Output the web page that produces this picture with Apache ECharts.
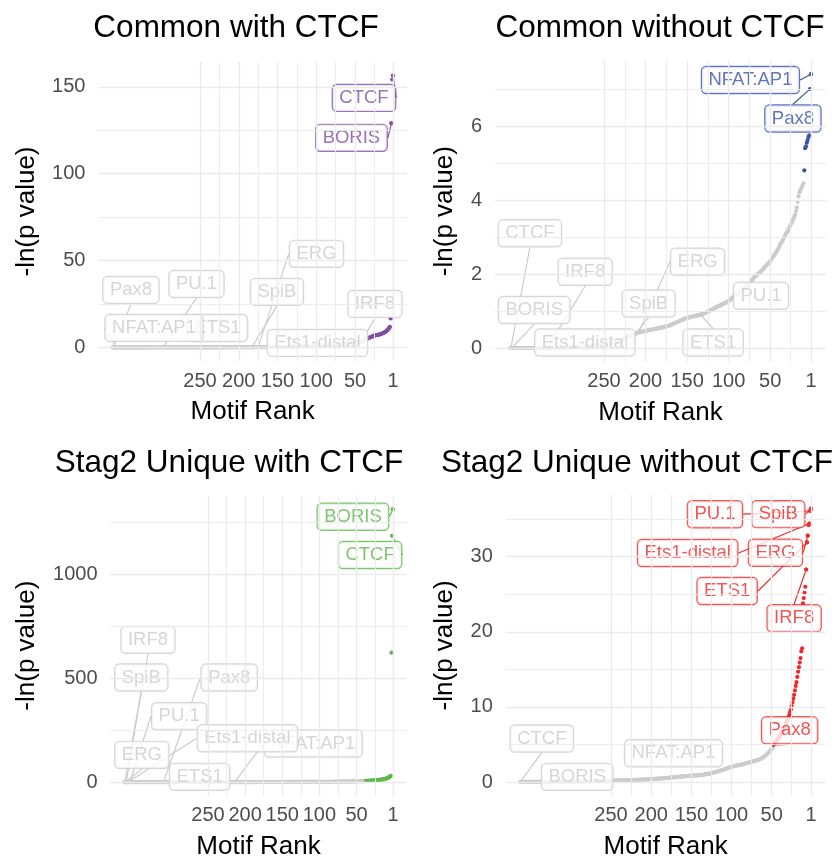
<!DOCTYPE html>
<html><head><meta charset="utf-8">
<script src="https://cdn.jsdelivr.net/npm/echarts@6/dist/echarts.min.js"></script>
<style>html,body{margin:0;padding:0;background:#fff}#c{width:838px;height:863px}</style>
</head><body><div id="c"></div>
<script>
// ---------------- DATA ----------------
const panelTitles = ['Common with CTCF', 'Common without CTCF', 'Stag2 Unique with CTCF', 'Stag2 Unique without CTCF'];
const motifs = ['CTCF', 'BORIS', 'Pax8', 'PU.1', 'NFAT:AP1', 'ETS1', 'SpiB', 'ERG', 'Ets1-distal', 'IRF8'];
const xTicks = [250, 200, 150, 100, 50, 1];
const xMinorTicks = [225, 175, 125, 75, 25.5];

// -ln(p) by motif rank (rank 1 first), one array per panel
const tlValues = [156.5,154.2,129.0,16.7,11.8,11.2,10.6,10.1,9.6,9.2,
8.9,8.6,8.4,8.2,8.0,7.8,7.6,7.5,7.4,7.3,
7.2,7.1,7.0,6.9,6.8,6.6,6.4,6.2,6.0,5.9,
5.7,5.5,5.3,5.0,4.8,4.5,4.3,4.1,3.9,3.7,
3.5,3.3,3.2,3.1,3.0,
2.9,2.8,2.7,2.6,2.5,2.45,2.4,2.3,2.25,2.2,2.1,2.05,2.0,1.95,1.9,
1.85,1.8,1.76,1.72,1.68,1.64,1.6,1.56,1.52,1.49,1.46,1.43,1.4,1.37,1.34,1.31,1.28,1.25,1.22,1.2,
1.18,1.15,1.13,1.1,1.08,1.06,1.04,1.02,1.0,0.98,0.96,0.94,0.92,0.9,0.89,0.87,0.85,0.84,0.82,0.81,
0.79,0.78,0.76,0.75,0.74,0.72,0.71,0.7,0.69,0.68,0.66,0.65,0.64,0.63,0.62,0.61,0.6,0.59,0.58,0.57,
0.56,0.55,0.54,0.53,0.52,0.51,0.5,0.49,0.48,0.47,0.46,0.45,0.45,0.44,0.43,0.42,0.41,0.41,0.4,0.39,
0.38,0.38,0.37,0.36,0.36,0.35,0.34,0.34,0.33,0.32,0.32,0.31,0.31,0.3,0.29,0.29,0.28,0.28,0.27,0.27,
0.26,0.26,0.25,0.25,0.24,0.24,0.23,0.23,0.22,0.22,0.21,0.21,0.2,0.2,0.2,0.19,0.19,0.18,0.18,0.18,
0.17,0.17,0.17,0.16,0.16,0.16,0.15,0.15,0.15,0.14,0.14,0.14,0.13,0.13,0.13,0.12,0.12,0.12,0.12,0.11,
0.11,0.11,0.11,0.1,0.1,0.1,0.1,0.09,0.09,0.09,0.09,0.09,0.08,0.08,0.08,0.08,0.08,0.07,0.07,0.07,
0.07,0.07,0.07,0.06,0.06,0.06,0.06,0.06,0.06,0.05,0.05,0.05,0.05,0.05,0.05,0.05,0.04,0.04,0.04,0.04,
0.04,0.04,0.04,0.04,0.04,0.04,0.04,0.04,0.04,0.04,0.04,0.04,0.04,0.04,0.04,
0.03,0.03,0.03,0.03,0.03,0.03,0.03,0.03,0.03,0.03,0.03,0.03,0.03,0.03,0.03,0.03,0.03,0.03,0.03,0.03,0.03,0.03,0.03,0.03,0.03,
0.02,0.02,0.02,0.02,0.02,0.02,0.02,0.02,0.02,0.02,0.02,0.02,0.02,0.02,0.02,0.02,0.02,0.02,0.02,0.02,0.02,0.02,0.02,0.02,0.02,0.02,0.02,0.02,0.02,0.02,
0.01,0.01,0.01,0.01,0.01,0.01,0.01,0.01,0.01,0.01,0.01,0.01,0.01,0.01,0.01,0.01,0.01,0.01,0.01,0.01,0.01,0.01,0.01,0.01,0.01,0.01,0.01,0.01,0.01,0.01,
0,0,0,0,0,0,0,0,0,0,0,0,0,0,0,0,0,0,0,0,0,0,0];

const trValues = [7.4,7.0,5.75,5.7,5.62,5.55,5.45,5.4,4.8,4.45,
4.4,4.35,4.3,4.25,4.2,4.1,3.95,3.8,3.7,3.6,
3.55,3.5,3.45,3.4,3.35,3.3,3.25,3.2,3.15,3.12,
3.1,3.05,3.0,2.95,2.9,2.87,2.84,2.8,2.75,2.7,
2.66,2.62,2.58,2.55,2.52,2.48,2.45,2.42,2.38,2.35,
2.32,2.3,2.27,2.25,2.22,2.2,2.17,2.15,2.12,2.1,
2.08,2.06,2.04,2.02,2.0,1.98,1.96,1.94,1.92,1.9,
1.86,1.83,1.8,1.77,1.74,1.72,1.7,1.68,1.66,1.64,
1.62,1.6,1.58,1.56,1.54,1.52,1.5,1.48,1.46,1.45,
1.44,1.43,1.41,1.39,1.37,1.35,1.33,1.31,1.29,1.27,
1.26,1.25,1.24,1.22,1.21,1.2,1.19,1.18,1.17,1.15,1.14,1.13,1.12,1.11,1.1,1.09,1.08,1.06,1.05,1.04,1.03,1.02,1.01,1.0,0.98,
0.97,0.96,0.95,0.94,0.93,0.92,0.91,0.9,0.9,0.89,0.89,0.88,0.88,0.87,0.87,0.86,0.86,0.85,0.85,0.84,0.84,0.83,0.83,0.82,0.82,
0.81,0.8,0.79,0.78,0.77,0.76,0.75,0.74,0.73,0.72,0.71,0.7,0.69,0.68,0.67,0.66,0.65,0.64,0.63,0.62,0.61,0.6,0.6,0.59,0.58,
0.58,0.57,0.57,0.56,0.56,0.55,0.55,0.54,0.54,0.53,0.53,0.52,0.52,0.51,0.51,0.5,0.5,0.5,0.49,0.49,0.48,0.48,0.47,0.47,0.46,
0.46,0.45,0.45,0.44,0.44,0.43,0.43,0.42,0.42,0.41,0.4,0.39,0.38,0.37,0.36,0.35,0.34,0.33,0.32,0.31,0.3,0.29,0.28,0.27,0.26,
0.25,0.24,0.23,0.22,0.21,0.2,0.2,0.19,0.18,0.18,0.17,0.16,0.16,0.15,0.15,0.14,0.14,0.13,0.13,0.12,0.12,0.11,0.11,0.1,0.1,
0.1,0.09,0.09,0.09,0.08,0.08,0.08,0.07,0.07,0.07,0.07,0.06,0.06,0.06,0.06,0.05,0.05,0.05,0.05,0.05,0.04,0.04,0.04,0.04,0.04,
0.04,0.03,0.03,0.03,0.03,0.03,0.03,0.03,0.02,0.02,0.02,0.02,0.02,0.02,0.02,0.02,0.02,0.01,0.01,0.01,0.01,0.01,0.01,0.01,0.01,
0.01,0.01,0.01,0.01,0.01,0.01,0.01,0.01,0.01,0.01,0.01,0.01,0.01,0.01,0.01,0.01,0.01,0.01,0.01,0.01,
0,0,0,0,0,0,0,0,0,0,0,0,0,0,0,0,0,0,0,0,0,0,0,0,0,0,0,0,0,0,0,0,0,0,0,0,0,0,0,0,0,0,0];

const blValues = [1312,1184,622,30,27,24,22,20,18.5,17,
16,15,14.2,13.5,12.8,12.2,11.6,11,10.5,10,
9.6,9.2,8.8,8.4,8.1,7.8,7.5,7.2,6.9,6.6,
6.4,6.2,6.0,5.8,5.6,5.4,5.2,5.0,4.9,4.8,4.7,4.5,4.3,4.1,
4.0,3.9,3.8,3.7,3.6,3.5,3.4,3.3,3.2,3.1,3.0,2.9,2.8,2.7,2.6,2.5,
2.45,2.4,2.35,2.3,2.25,2.2,2.15,2.1,2.05,2.0,1.95,1.9,1.86,1.82,1.78,1.74,1.7,1.66,1.62,1.58,
1.55,1.52,1.49,1.46,1.43,1.4,1.37,1.34,1.31,1.28,1.25,1.22,1.2,1.18,1.16,1.14,1.12,1.1,1.08,1.06,
1.04,1.02,1.0,0.98,0.96,0.94,0.92,0.9,0.88,0.86,0.85,0.84,0.83,0.82,0.81,0.8,0.78,0.76,0.74,0.72,
0.7,0.68,0.66,0.64,0.62,0.6,0.58,0.56,0.54,0.52,0.5,0.49,0.48,0.47,0.46,0.45,0.44,0.43,0.42,0.41,
0.4,0.39,0.38,0.37,0.36,0.35,0.34,0.33,0.32,0.31,
0.3,0.29,0.29,0.28,0.28,0.27,0.27,0.26,0.26,0.25,0.25,0.24,0.24,0.23,0.23,0.22,0.22,0.21,0.21,0.2,
0.2,0.19,0.19,0.18,0.18,0.17,0.17,0.16,0.16,0.15,0.15,0.14,0.14,0.13,0.13,0.12,0.12,0.11,0.11,0.1,
0.1,0.1,0.09,0.09,0.09,0.08,0.08,0.08,0.07,0.07,
0.06,0.06,0.06,0.06,0.06,0.06,0.06,0.06,0.06,0.06,0.06,0.06,0.06,0.06,0.06,0.06,0.06,0.06,0.06,0.06,
0.05,0.05,0.05,0.05,0.05,0.05,0.05,0.05,0.05,0.05,0.05,0.05,0.05,0.05,0.05,0.05,0.05,0.05,0.05,0.05,
0.04,0.04,0.04,0.04,0.04,0.04,0.04,0.04,0.04,0.04,0.04,0.04,0.04,0.04,0.04,0.04,0.04,0.04,0.04,0.04,
0.03,0.03,0.03,0.03,0.03,0.03,0.03,0.03,0.03,0.03,0.03,0.03,0.03,0.03,0.03,0.03,0.03,0.03,0.03,0.03,
0.02,0.02,0.02,0.02,0.02,0.02,0.02,0.02,0.02,0.02,0.02,0.02,0.02,0.02,0.02,0.02,0.02,0.02,0.02,0.02,
0.01,0.01,0.01,0.01,0.01,0.01,0.01,0.01,0.01,0.01,0.01,0.01,0.01,0.01,0.01,0.01,0.01,0.01,0.01,0.01,0.01,0.01,0.01,0.01,0.01,0.01,0.01,0.01,0.01,0.01,
0,0,0,0,0,0,0,0,0,0,0,0,0,0,0,0,0,0,0,0,0,0,0,0,0,0,0,0,0,0,0,0,0];

const brValues = [36.4,36.1,34.4,34.2,32.8,31.9,28.3,26.0,25.2,24.5,
23.8,17.8,17.4,16.5,15.9,15.3,14.7,14.0,13.3,12.8,
12.2,11.6,11.1,10.6,10.1,9.7,9.3,8.9,8.6,8.3,
8.1,7.8,7.6,7.3,7.1,6.9,6.7,6.5,6.3,6.1,
5.95,5.8,5.65,5.5,5.35,5.2,5.05,4.93,
4.5,4.38,4.26,4.14,4.02,3.9,3.8,3.7,3.6,3.5,3.42,3.34,3.26,3.19,3.13,3.07,3.02,2.97,2.93,2.9,2.87,2.84,
2.81,2.78,2.75,2.72,2.69,2.66,2.63,2.6,2.57,2.54,2.51,2.48,2.45,2.42,2.39,2.36,2.34,2.32,2.3,2.28,2.26,2.24,2.22,2.19,2.16,2.13,2.1,2.08,2.06,2.04,
2.0,1.96,1.92,1.88,1.84,1.8,1.76,1.72,1.68,1.64,1.6,1.57,1.54,1.51,1.48,1.45,1.42,1.39,1.36,1.33,
1.3,1.27,1.24,1.21,1.18,1.15,1.13,1.11,1.09,1.07,1.05,1.03,1.01,0.99,0.97,0.95,0.94,0.93,0.92,0.91,
0.9,0.89,0.89,0.88,0.88,0.87,0.87,0.86,0.86,0.85,
0.84,0.83,0.82,0.81,0.8,0.79,0.78,0.77,0.76,0.75,0.74,0.73,0.72,0.71,0.7,0.69,0.68,0.67,0.66,0.65,
0.64,0.63,0.62,0.61,0.6,0.59,0.58,0.57,0.56,0.55,0.54,0.53,0.52,0.51,0.5,0.5,0.49,0.49,0.48,0.47,
0.46,0.45,0.44,0.43,0.42,0.41,0.4,0.4,0.39,0.38,
0.38,0.37,0.37,0.36,0.36,0.35,0.35,0.34,0.34,0.33,0.33,0.32,0.32,0.31,0.31,0.3,0.3,0.29,0.29,0.28,
0.28,0.27,0.27,0.26,0.26,0.25,0.25,0.25,0.24,0.24,0.24,0.23,0.23,0.23,0.22,0.22,0.22,0.21,0.21,0.21,
0.2,0.2,0.2,0.2,0.19,0.19,0.19,0.19,0.18,0.18,
0.18,0.18,0.17,0.17,0.17,0.17,0.16,0.16,0.16,0.16,0.15,0.15,0.15,0.15,0.14,0.14,0.14,0.14,0.13,0.13,
0.13,0.13,0.12,0.12,0.12,0.12,0.11,0.11,0.11,0.11,0.1,0.1,0.1,0.1,0.09,0.09,0.09,0.09,0.09,0.08,
0.08,0.08,0.08,0.08,0.07,0.07,0.07,0.07,0.07,0.07,
0.06,0.06,0.06,0.06,0.06,0.06,0.06,0.06,0.06,0.06,0.06,0.06,
0.05,0.05,0.05,0.05,0.05,0.05,0.05,0.05,0.05,0.05,0.05,0.05,
0.04,0.04,0.04,0.04,0.04,0.04,0.04,0.04,0.04,0.04,0.04,0.04,
0.03,0.03,0.03,0.03,0.03,0.03,0.03,0.03,0.03,0.03,0.03,0.03,
0.02,0.02,0.02,0.02,0.02,0.02,0.02,0.02,0.02,0.02,0.02,0.02,0.02,0.02,0.02];

// rank of each labelled motif (same order as motifs)
const tlRanks = [1, 3, 362, 298, 358, 240, 183, 175, 90, 42];
const trRanks = [362, 361, 2, 92, 1, 134, 212, 208, 270, 318];
const blRanks = [2, 1, 310, 355, 214, 260, 360, 361, 358, 362];
const brRanks = [363, 335, 48, 2, 170, 6, 1, 5, 3, 7];

const tlYTicks = [0, 50, 100, 150], tlYMinor = [25, 75, 125];
const trYTicks = [0, 2, 4, 6], trYMinor = [1, 3, 5, 7];
const blYTicks = [0, 500, 1000], blYMinor = [250, 750, 1250];
const brYTicks = [0, 10, 20, 30], brYMinor = [5, 15, 25, 35];

// ---------------- STYLE / LAYOUT ----------------
const FONT = '"Liberation Sans", Arial, Helvetica, sans-serif';
const GREY = '#cccccc';
const GRIDC = '#ebebeb';
const SIG = 4.605; // -ln(0.01)

const panels = [
  { title: panelTitles[0], values: tlValues, ranks: tlRanks, color: '#7E4FA3', yTicks: tlYTicks, yMinor: tlYMinor,
    grid: { left: 98.4, top: 62, width: 308.6, height: 299 }, yGap: 59, titleX: 236, titleY: 28,
    order: ['ETS1', 'CTCF', 'BORIS', 'Pax8', 'PU.1', 'NFAT:AP1', 'SpiB', 'ERG', 'Ets1-distal', 'IRF8'],
    off: { 'CTCF': [-29, 22.3], 'BORIS': [-40, 14.5], 'Pax8': [17.8, -57.5], 'PU.1': [33.7, -63.4], 'NFAT:AP1': [37.7, -19.5],
           'ETS1': [9.7, -19.4], 'SpiB': [25, -55.2], 'ERG': [58.4, -93.2], 'Ets1-distal': [-6.5, -2.8], 'IRF8': [13.8, -37.8] },
    noLine: ['ETS1', 'Ets1-distal'] },
  { title: panelTitles[1], values: trValues, ranks: trRanks, color: '#3A54A6', yTicks: trYTicks, yMinor: trYMinor,
    grid: { left: 495, top: 60.5, width: 331, height: 301.2 }, yGap: 37, titleX: 660, titleY: 28,
    order: motifs,
    off: { 'CTCF': [19, -114.7], 'BORIS': [22.5, -38], 'Pax8': [-17.2, 29.5], 'PU.1': [25.7, 0.7], 'NFAT:AP1': [-60.5, 5.8],
           'ETS1': [12.7, 27.8], 'SpiB': [13.1, -30.1], 'ERG': [58.7, -70.7], 'Ets1-distal': [-2.5, -3.6], 'IRF8': [37.7, -75.9] },
    noLine: ['Ets1-distal'] },
  { title: panelTitles[2], values: blValues, ranks: blRanks, color: '#5DB84A', yTicks: blYTicks, yMinor: blYMinor,
    grid: { left: 110.6, top: 495.5, width: 295.8, height: 300.2 }, yGap: 71, titleX: 229, titleY: 463,
    order: motifs,
    off: { 'CTCF': [-22.1, 19.3], 'BORIS': [-40, 7.6], 'Pax8': [65.8, -104.5], 'PU.1': [49.2, -65.8], 'NFAT:AP1': [78.5, -38.5],
           'ETS1': [-0.9, -5.2], 'SpiB': [15, -104.5], 'ERG': [16.3, -27.2], 'Ets1-distal': [119.7, -43.8], 'IRF8': [23.2, -142.2] },
    noLine: ['ETS1'] },
  { title: panelTitles[3], values: brValues, ranks: brRanks, color: '#EE2A2A', yTicks: brYTicks, yMinor: brYMinor,
    grid: { left: 505.8, top: 495, width: 319.7, height: 300.7 }, yGap: 48, titleX: 637, titleY: 463,
    order: motifs,
    off: { 'CTCF': [21.5, -43.4], 'BORIS': [34.4, -4.9], 'Pax8': [16.4, -14.7], 'PU.1': [-95.2, 3.3], 'NFAT:AP1': [-1.8, -23.9],
           'ETS1': [-79.8, 48.5], 'SpiB': [-32.7, 5.5], 'ERG': [-32.3, 17], 'Ets1-distal': [-121.7, 29.3], 'IRF8': [-12, 48.8] },
    noLine: ['BORIS', 'NFAT:AP1'] }
];

const grids = [], xAxes = [], yAxes = [], series = [], graphics = [];

panels.forEach((p, i) => {
  const n = p.values.length;
  const vmax = Math.max(...p.values), vmin = Math.min(0, Math.min(...p.values));
  const xr = n - 1, yr = vmax - vmin;
  grids.push(Object.assign({ containLabel: false, outerBoundsMode: 'none' }, p.grid));
  xAxes.push({
    gridIndex: i, type: 'value', inverse: true, min: 1 - 0.05 * xr, max: n + 0.05 * xr,
    name: 'Motif Rank', nameLocation: 'middle', nameGap: 38,
    nameTextStyle: { fontSize: 26, color: '#000', fontFamily: FONT },
    axisLine: { show: false }, axisTick: { show: false }, splitLine: { show: false },
    axisLabel: { customValues: xTicks, hideOverlap: false, fontSize: 20, color: '#4d4d4d', margin: 10, fontFamily: FONT,
                 formatter: v => String(v) }
  });
  yAxes.push({
    gridIndex: i, type: 'value', min: vmin - 0.05 * yr, max: vmax + 0.05 * yr,
    name: '-ln(p value)', nameLocation: 'middle', nameGap: p.yGap, nameRotate: 90,
    nameTextStyle: { fontSize: 26, color: '#000', fontFamily: FONT },
    axisLine: { show: false }, axisTick: { show: false }, splitLine: { show: false },
    axisLabel: { customValues: p.yTicks, hideOverlap: false, fontSize: 20, color: '#4d4d4d', margin: 13, fontFamily: FONT,
                 formatter: v => String(v) }
  });
  // grid lines
  const gl = [];
  xTicks.forEach(v => gl.push({ xAxis: v, lineStyle: { width: 1.4 } }));
  xMinorTicks.forEach(v => gl.push({ xAxis: v, lineStyle: { width: 0.9 } }));
  p.yTicks.forEach(v => gl.push({ yAxis: v, lineStyle: { width: 1.4 } }));
  p.yMinor.forEach(v => gl.push({ yAxis: v, lineStyle: { width: 0.9 } }));
  series.push({
    type: 'scatter', xAxisIndex: i, yAxisIndex: i, data: [], z: 1, silent: true,
    markLine: { silent: true, symbol: 'none', animation: false, label: { show: false },
                lineStyle: { color: GRIDC, type: 'solid' }, emphasis: { disabled: true }, data: gl }
  });
  // points
  series.push({
    type: 'scatter', xAxisIndex: i, yAxisIndex: i, z: 3, symbolSize: 4.2, silent: true,
    data: p.values.map((v, k) => [k + 1, v]),
    itemStyle: { color: prm => prm.value[1] > SIG ? p.color : GREY, opacity: 1 }
  });
  // labels
  const labelData = p.order.map(m => {
    const r = p.ranks[motifs.indexOf(m)];
    const v = p.values[r - 1];
    const c = v > SIG ? p.color : GREY;
    return {
      name: m, value: [r, v],
      itemStyle: { color: c },
      label: { color: c, borderColor: c },
      labelLine: { show: p.noLine.indexOf(m) < 0, lineStyle: { color: c, width: 1.2 } }
    };
  });
  series.push({
    type: 'scatter', xAxisIndex: i, yAxisIndex: i, z: 4, symbolSize: 4.2, silent: true,
    data: labelData,
    label: {
      show: true, position: 'inside', formatter: '{b}', fontSize: 18.5, fontFamily: FONT, lineHeight: 18,
      textBorderWidth: 0, textBorderColor: 'transparent', textShadowBlur: 0,
      backgroundColor: '#ffffff', borderWidth: 1.2, borderRadius: 4, padding: [4, 6.5]
    },
    labelLine: { show: true, length2: 0 },
    labelLayout: prm => {
      const o = p.off[p.order[prm.dataIndex]];
      return { dx: o[0], dy: o[1] };
    }
  });
  graphics.push({
    type: 'text', x: p.titleX, y: p.titleY, silent: true,
    style: { text: p.title, font: '31.5px ' + FONT, fill: '#000', align: 'center', verticalAlign: 'middle' }
  });
});

const chart = echarts.init(document.getElementById('c'), null, { renderer: 'canvas' });
chart.setOption({
  animation: false,
  backgroundColor: '#ffffff',
  grid: grids, xAxis: xAxes, yAxis: yAxes, series: series,
  graphic: graphics
});
</script>
</body></html>
